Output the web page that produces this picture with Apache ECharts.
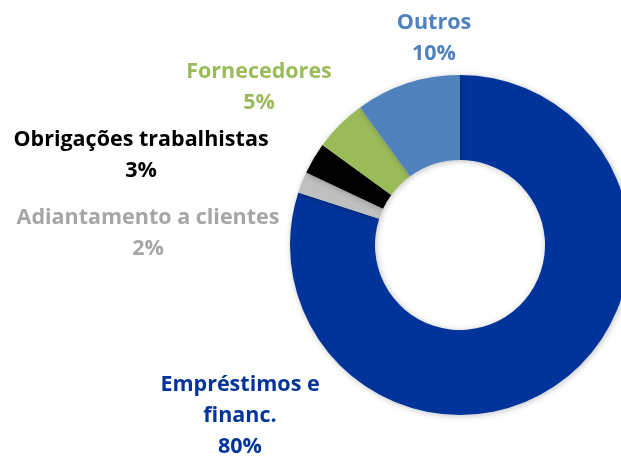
<!DOCTYPE html>
<html>
<head>
<meta charset="utf-8">
<script src="https://cdn.jsdelivr.net/npm/echarts@6/dist/echarts.min.js"></script>
<style>
  html, body { margin: 0; padding: 0; background: #fff; }
  #chart { width: 621px; height: 457px; }
</style>
</head>
<body>
<div id="chart"></div>
<script>
// categories in drawing order (clockwise from 12 o'clock)
const categories = ['Empréstimos e\nfinanc.', 'Adiantamento a clientes', 'Obrigações trabalhistas', 'Fornecedores', 'Outros']
const shares     = [80, 2, 3, 5, 10]

const SLICE_COLORS = ['#00349A', '#BFBFBF', '#000000', '#9BBB59', '#4F81BD']
const LABEL_COLORS = ['#00349A', '#A6A6A6', '#000000', '#9BBB59', '#4F81BD']
// label anchor (center of first line)
const LABEL_POS = [[240, 369], [148, 202], [141, 124], [259, 56], [434, 7]]

const chart = echarts.init(document.getElementById('chart'))

chart.setOption({
  animation: false,
  series: [{
    type: 'pie',
    center: [460, 245],
    radius: [85, 170],
    startAngle: 90,
    clockwise: true,
    avoidLabelOverlap: false,
    data: categories.map((name, i) => ({
      name,
      value: shares[i],
      itemStyle: { color: SLICE_COLORS[i] },
      label: { color: LABEL_COLORS[i] },
    })),
    itemStyle: {
      borderWidth: 0,
      shadowBlur: 6,
      shadowColor: 'rgba(0,0,0,0.25)',
      shadowOffsetX: 1,
      shadowOffsetY: 1,
    },
    label: {
      show: true,
      position: 'outside',
      formatter: '{b}\n{d}%',
      fontFamily: 'Open Sans',
      fontWeight: 'bold',
      fontSize: 21.5,
      lineHeight: 31,
      align: 'center',
    },
    labelLine: { show: false },
    labelLayout: (p) => ({
      x: LABEL_POS[p.dataIndex][0],
      y: LABEL_POS[p.dataIndex][1],
      align: 'center',
      verticalAlign: 'top',
    }),
    emphasis: { disabled: true },
  }],
})
</script>
</body>
</html>
